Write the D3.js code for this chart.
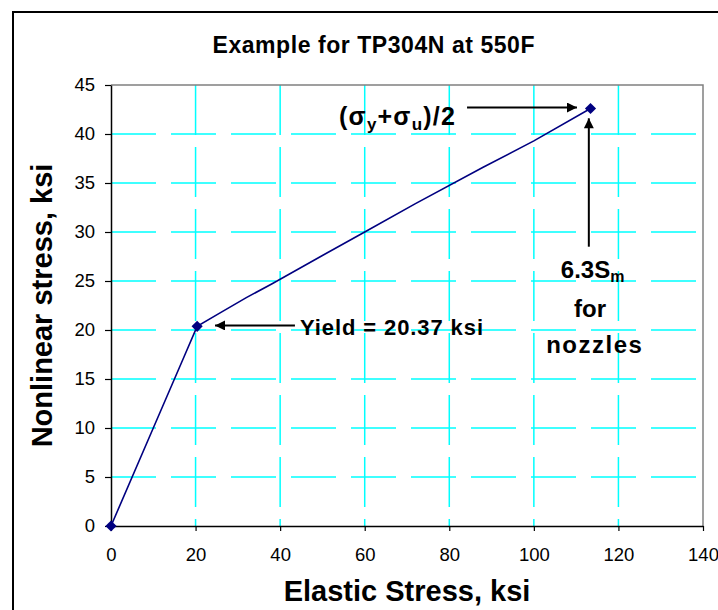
<!DOCTYPE html>
<html>
<head>
<meta charset="utf-8">
<script src="https://cdn.jsdelivr.net/npm/d3@7"></script>
<style>
  body { margin: 0; background: #fff; }
  svg { display: block; font-family: "Liberation Sans", Arial, sans-serif; }
</style>
</head>
<body>
<div id="chart"></div>
<script>
// data
const curveX = [0, 10, 17.3, 20.37, 26, 32, 38, 50, 60, 72, 88, 100, 113.4];
const curveY = [0, 10, 17.3, 20.37, 21.8, 23.3, 24.7, 27.6, 30, 32.9, 36.6, 39.3, 42.6];
const markerX = [0, 20.37, 113.4];
const markerY = [0, 20.37, 42.6];
const xTicks = [0, 20, 40, 60, 80, 100, 120, 140];
const yTicks = [0, 5, 10, 15, 20, 25, 30, 35, 40, 45];

const width = 718, height = 610;
const margin = { top: 85, right: 15, bottom: 84, left: 111 };

const svg = d3.select("#chart").append("svg")
  .attr("width", width)
  .attr("height", height);

// outer chart frame (runs past the right and bottom edges)
svg.append("rect")
  .attr("x", 13).attr("y", 12)
  .attr("width", 722).attr("height", 620)
  .attr("fill", "#fff")
  .attr("stroke", "#000")
  .attr("stroke-width", 2);

const x = d3.scaleLinear().domain([0, 140]).range([margin.left, width - margin.right]);
const y = d3.scaleLinear().domain([0, 45]).range([height - margin.bottom, margin.top]);

const defs = svg.append("defs");
defs.append("marker")
  .attr("id", "head")
  .attr("markerUnits", "userSpaceOnUse")
  .attr("viewBox", "0 0 10 10")
  .attr("refX", 10).attr("refY", 5)
  .attr("markerWidth", 11).attr("markerHeight", 10)
  .attr("orient", "auto")
  .append("path")
  .attr("d", "M0,0L10,5L0,10Z")
  .attr("fill", "#000");

// gridlines
const grid = svg.append("g").attr("stroke", "#00ffff").attr("stroke-width", 1.5).attr("fill", "none");
grid.selectAll(".gy")
  .data(yTicks.filter(d => d > 0 && d < 45))
  .join("line")
  .attr("x1", x(0)).attr("x2", x(140))
  .attr("y1", d => y(d)).attr("y2", d => y(d))
  .attr("stroke-dasharray", "45,15");
grid.selectAll(".gx")
  .data(xTicks.filter(d => d > 0 && d < 140))
  .join("line")
  .attr("x1", d => x(d)).attr("x2", d => x(d))
  .attr("y1", y(45)).attr("y2", y(0))
  .attr("stroke-dasharray", "50,12");

// plot area border (top / right grey)
svg.append("path")
  .attr("d", `M${x(0)},${y(45)}H${x(140)}V${y(0)}`)
  .attr("fill", "none")
  .attr("stroke", "#808080")
  .attr("stroke-width", 1.5);

// axes
const xAxis = svg.append("g")
  .attr("transform", `translate(0,${y(0)})`)
  .call(d3.axisBottom(x).tickValues(xTicks).tickSize(5).tickPadding(17).tickSizeOuter(0));
const yAxis = svg.append("g")
  .attr("transform", `translate(${x(0)},0)`)
  .call(d3.axisLeft(y).tickValues(yTicks).tickSize(6).tickPadding(10).tickSizeOuter(0));
[xAxis, yAxis].forEach(a => {
  a.select(".domain").attr("stroke", "#000").attr("stroke-width", 1.5);
  a.selectAll(".tick line").attr("stroke", "#000").attr("stroke-width", 1.2);
  a.selectAll(".tick text")
    .attr("fill", "#000")
    .style("font-size", "18.5px")
    .style("font-family", "'Liberation Sans', Arial, sans-serif");
});

// the curve
const pts = curveX.map((d, i) => [d, curveY[i]]);
svg.append("path")
  .datum(pts)
  .attr("fill", "none")
  .attr("stroke", "#000080")
  .attr("stroke-width", 1.6)
  .attr("d", d3.line().x(d => x(d[0])).y(d => y(d[1])));

svg.selectAll(".mk")
  .data(markerX.map((d, i) => [d, markerY[i]]))
  .join("path")
  .attr("transform", d => `translate(${x(d[0])},${y(d[1])}) rotate(45)`)
  .attr("d", d3.symbol(d3.symbolSquare, 62))
  .attr("fill", "#000080");

// annotation arrows (data units)
const arrows = [
  { x1: 84.2, y1: 42.7, x2: 110.2, y2: 42.7 },
  { x1: 113.0, y1: 28.5, x2: 113.0, y2: 41.6 },
  { x1: 43.5, y1: 20.46, x2: 24.6, y2: 20.46 }
];
svg.selectAll(".arrow")
  .data(arrows)
  .join("line")
  .attr("x1", d => x(d.x1)).attr("y1", d => y(d.y1))
  .attr("x2", d => x(d.x2)).attr("y2", d => y(d.y2))
  .attr("stroke", "#000")
  .attr("stroke-width", 2)
  .attr("marker-end", "url(#head)");

// labels
const bold = t => t.attr("font-weight", "bold").attr("fill", "#000");

svg.append("text")
  .call(bold)
  .attr("x", 373.5).attr("y", 53)
  .attr("text-anchor", "middle")
  .attr("font-size", 23)
  .attr("textLength", 322)
  .text("Example for TP304N at 550F");

svg.append("text")
  .call(bold)
  .attr("x", x(70)).attr("y", 601)
  .attr("text-anchor", "middle")
  .attr("font-size", 29)
  .text("Elastic Stress, ksi");

svg.append("text")
  .call(bold)
  .attr("transform", `translate(52,${y(22.5)}) rotate(-90)`)
  .attr("text-anchor", "middle")
  .attr("font-size", 29)
  .text("Nonlinear stress, ksi");

svg.append("text")
  .call(bold)
  .attr("x", x(44.7)).attr("y", y(19.5))
  .attr("font-size", 22)
  .attr("textLength", 183)
  .text("Yield = 20.37 ksi");

const sig = svg.append("text")
  .call(bold)
  .attr("x", x(81.6)).attr("y", y(40.9))
  .attr("text-anchor", "end")
  .attr("font-size", 25)
  .attr("letter-spacing", 1.2);
sig.append("tspan").text("(\u03c3");
sig.append("tspan").attr("font-size", 17).attr("dy", 5).text("y");
sig.append("tspan").attr("dy", -5).text("+\u03c3");
sig.append("tspan").attr("font-size", 17).attr("dy", 5).text("u");
sig.append("tspan").attr("dy", -5).text(")/2");

const sm = svg.append("text")
  .call(bold)
  .attr("x", x(113.9)).attr("y", y(25.3))
  .attr("text-anchor", "middle")
  .attr("font-size", 24);
sm.append("tspan").text("6.3S");
sm.append("tspan").attr("font-size", 16).attr("dy", 4).text("m");

svg.append("text")
  .call(bold)
  .attr("x", x(113.3)).attr("y", y(21.3))
  .attr("text-anchor", "middle")
  .attr("font-size", 24)
  .text("for");

svg.append("text")
  .call(bold)
  .attr("x", x(114.4)).attr("y", y(17.65))
  .attr("text-anchor", "middle")
  .attr("font-size", 24)
  .attr("letter-spacing", 1.5)
  .text("nozzles");
</script>
</body>
</html>
